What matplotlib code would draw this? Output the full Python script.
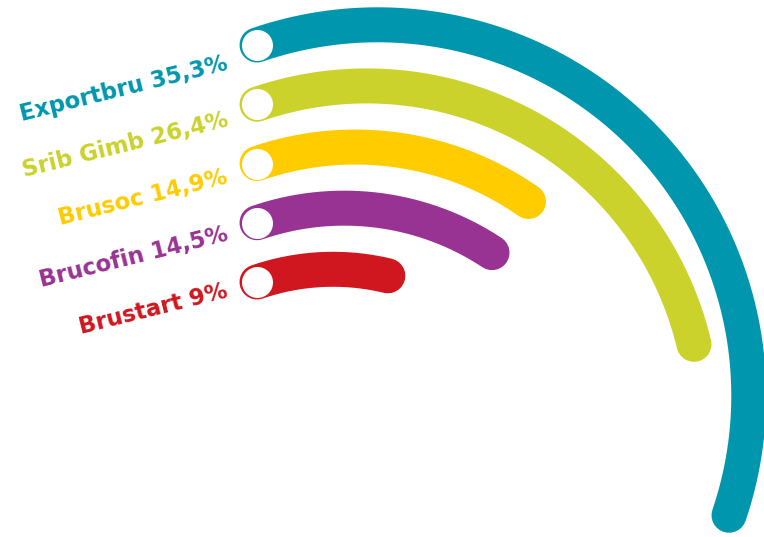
import numpy as np
import matplotlib.pyplot as plt

# data
names = ["Exportbru", "Srib Gimb", "Brusoc", "Brucofin", "Brustart"]
shares = [35.3, 26.4, 14.9, 14.5, 9]
colors = ["#0097AE", "#CAD22B", "#FFCC00", "#993393", "#D0171F"]

W, H = 764, 537
fig = plt.figure(figsize=(W / 100, H / 100), dpi=100)
ax = fig.add_axes([0, 0, 1, 1])
ax.set_xlim(0, W)
ax.set_ylim(H, 0)
ax.axis("off")

# layout (pixels)
x0, y0, gap = 257, 45, 59.25      # start dots
r0, shrink = 371, 0.58            # radius of outer arc, radius loss per px
start = np.radians(-19)           # arcs begin a bit left of the top
band = 35                         # band thickness
lw = band * 0.72
lab_x, lab_y, lab_gap = 229, 69, 57

for i, (name, v, c) in enumerate(zip(names, shares, colors)):
    ys = y0 + gap * i
    r = r0 - shrink * gap * i
    cx = x0 - r * np.sin(start)
    cy = ys + r * np.cos(start)
    th = np.linspace(start, start + np.radians(v * 3.62), 300)
    ax.plot(cx + r * np.sin(th), cy - r * np.cos(th), color=c, lw=lw,
            solid_capstyle="round", clip_on=False)
    ax.plot(x0, ys, "o", ms=31 * 0.72, mfc="white", mew=0, zorder=3)
    txt = f"{name} {v:g}%".replace(".", ",")
    ax.text(lab_x, lab_y + lab_gap * i, txt, color=c, fontsize=16.3,
            fontfamily="DejaVu Sans", fontweight="bold", ha="right",
            va="baseline", rotation=14, rotation_mode="anchor")

fig.savefig("out.png", dpi=100)
